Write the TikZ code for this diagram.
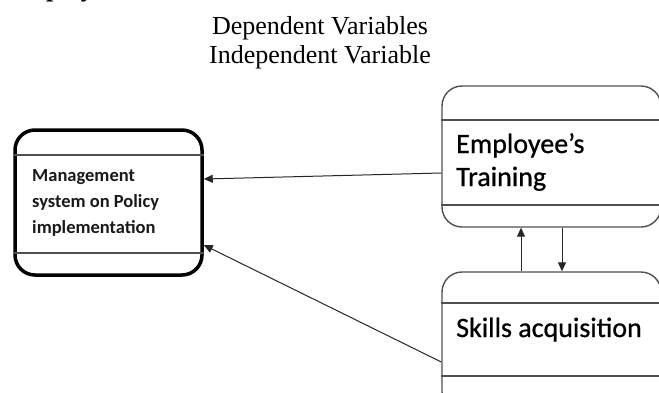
\documentclass[tikz,border=0pt]{standalone}
\usepackage{fontspec}
\setmainfont{Liberation Serif}
\newfontfamily\calib{Carlito}
\newfontfamily\calibh[FakeBold=0.8]{Carlito}
\usetikzlibrary{arrows.meta}
\definecolor{edgegray}{HTML}{505050}
\begin{document}
\begin{tikzpicture}[x=1pt,y=-1pt,
  boxthin/.style={draw=edgegray,line width=1.4pt,rounded corners=20pt,inner sep=0pt},
  boxthick/.style={draw=black,line width=3.5pt,rounded corners=20pt,inner sep=0pt},
  innerline/.style={draw=edgegray,line width=1.8pt},
  arr/.style={draw=black!85,line width=1pt,-{Triangle[length=9pt,width=8pt]}},
  lefttxt/.style={font=\calib\bfseries\fontsize{18.5}{22}\selectfont,anchor=base west,inner sep=0pt,text=black!90},
  righttxt/.style={font=\calibh\fontsize{28}{32}\selectfont,anchor=base west,inner sep=0pt,text=black},
  titletxt/.style={font=\fontsize{26}{30}\selectfont,anchor=base,inner sep=0pt}]
\useasboundingbox (0,0) rectangle (659,392);
\begin{scope}
\clip (0,0) rectangle (659,392);
% cut-off heading fragment
\node[font=\bfseries\fontsize{26}{30}\selectfont,anchor=base west,inner sep=0pt] (head) at (7,-3.5) {Employ};
% titles
\node[titletxt] (dep) at (320,34) {Dependent Variables};
\node[titletxt] (ind) at (320,63) {Independent Variable};
% left box
\node[boxthick,minimum width=187pt,minimum height=145pt] (l) at (108.5,202.5) {};
\draw[innerline] (l.west |- 0,155) -- (l.east |- 0,155);
\draw[innerline] (l.west |- 0,253) -- (l.east |- 0,253);
\node[lefttxt] (l1) at (32,181) {Management};
\node[lefttxt] (l2) at (32,207) {system on Policy};
\node[lefttxt] (l3) at (32,233) {implementation};
% employee box
\node[boxthin,minimum width=219pt,minimum height=141pt] (e) at (551.5,156.5) {};
\draw[innerline] (e.west |- 0,120) -- (e.east |- 0,120);
\draw[innerline] (e.west |- 0,205) -- (e.east |- 0,205);
\node[righttxt] (e1) at (456,153) {Employee’s};
\node[righttxt] (e2) at (456,186) {Training};
% skills box
\node[boxthin,minimum width=219pt,minimum height=140pt] (s) at (551.5,342) {};
\draw[innerline] (s.west |- 0,303) -- (s.east |- 0,303);
\draw[innerline] (s.west |- 0,376) -- (s.east |- 0,376);
\node[righttxt] (s1) at (456,337) {Skills acquisition};
% connectors
\draw[arr] ([yshift=-16.5pt]e.west) -- ([yshift=23.5pt]l.east);
\draw[arr] ([yshift=-20pt]s.west) -- ([yshift=-42.5pt]l.east);
\draw[arr] ([xshift=-30.5pt]s.north) -- ([xshift=-30.5pt]e.south);
\draw[arr] ([xshift=10.5pt]e.south) -- ([xshift=10.5pt]s.north);
\end{scope}
\end{tikzpicture}
\end{document}
